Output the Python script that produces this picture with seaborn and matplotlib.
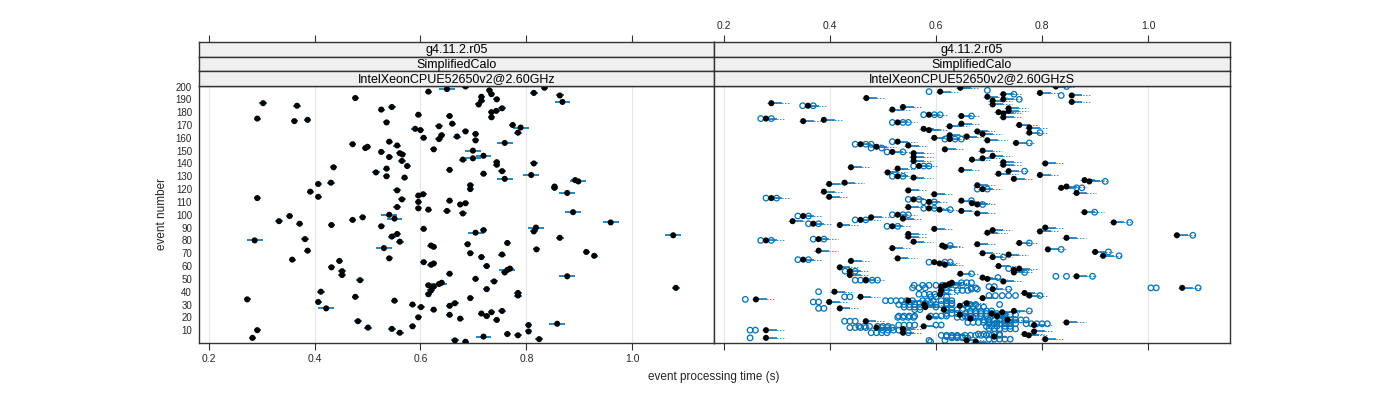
"""
Event processing time per event, two lattice-style panels
(single-threaded run vs. the 'S' run with its individual repeats).
"""
import numpy as np
import pandas as pd
import matplotlib
matplotlib.use("Agg")
import matplotlib.pyplot as plt
import seaborn as sns

# ---- data ------------------------------------------------------------------
strip_rows = ["g4.11.2.r05", "SimplifiedCalo"]
left_cpu = "IntelXeonCPUE52650v2@2.60GHz"
right_cpu = "IntelXeonCPUE52650v2@2.60GHzS"

x_ticks = [0.2, 0.4, 0.6, 0.8, 1.0]
y_ticks = list(range(10, 201, 10))

left_events = [
    200, 199, 198, 197, 196, 195, 194, 193, 192, 191,
    190, 189, 188, 187, 186, 185, 184, 183, 182, 181,
    180, 178, 177, 176, 175, 174, 173, 172, 171, 170,
    169, 168, 167, 166, 165, 164, 163, 162, 161, 160,
    159, 158, 157, 156, 155, 154, 153, 152, 151, 150,
    149, 148, 147, 146, 145, 144, 143, 142, 141, 140,
    139, 138, 137, 136, 135, 134, 133, 132, 131, 130,
    129, 128, 127, 126, 125, 124, 123, 122, 121, 120,
    119, 118, 117, 116, 115, 114, 113, 112, 111, 110,
    109, 108, 106, 105, 104, 103, 102, 101, 100, 99,
    98, 97, 96, 95, 94, 93, 92, 91, 90, 89,
    88, 87, 86, 85, 84, 83, 82, 81, 80, 79,
    78, 77, 76, 75, 74, 73, 72, 71, 70, 69,
    68, 67, 66, 65, 64, 63, 62, 61, 60, 59,
    58, 57, 56, 55, 54, 53, 52, 50, 49, 48,
    47, 46, 45, 44, 43, 42, 41, 40, 39, 38,
    37, 36, 35, 34, 33, 32, 31, 30, 29, 28,
    27, 26, 25, 24, 23, 22, 21, 20, 19, 18,
    17, 15, 14, 13, 12, 11, 10, 9, 8, 7,
    6, 5, 4, 3, 2, 1,
]
left_times = [
    0.685, 0.834, 0.650, 0.730, 0.615, 0.814, 0.734, 0.863, 0.715, 0.477,
    0.744, 0.715, 0.868, 0.303, 0.710, 0.367, 0.546, 0.754, 0.526, 0.743,
    0.734, 0.596, 0.655, 0.734, 0.292, 0.387, 0.362, 0.536, 0.660, 0.774,
    0.635, 0.789, 0.590, 0.600, 0.685, 0.784, 0.704, 0.640, 0.669, 0.606,
    0.635, 0.704, 0.541, 0.759, 0.472, 0.556, 0.500, 0.496, 0.625, 0.699,
    0.526, 0.561, 0.566, 0.719, 0.541, 0.699, 0.680, 0.565, 0.744, 0.814,
    0.744, 0.575, 0.436, 0.536, 0.655, 0.754, 0.516, 0.719, 0.809, 0.536,
    0.570, 0.759, 0.892, 0.898, 0.431, 0.407, 0.694, 0.853, 0.853, 0.694,
    0.556, 0.392, 0.877, 0.605, 0.596, 0.407, 0.292, 0.565, 0.655, 0.596,
    0.685, 0.675, 0.556, 0.596, 0.615, 0.650, 0.888, 0.680, 0.541, 0.353,
    0.491, 0.551, 0.472, 0.333, 0.959, 0.372, 0.432, 0.526, 0.818, 0.606,
    0.719, 0.814, 0.704, 0.556, 1.077, 0.546, 0.863, 0.382, 0.287, 0.561,
    0.764, 0.689, 0.620, 0.625, 0.531, 0.819, 0.387, 0.913, 0.694, 0.754,
    0.928, 0.715, 0.541, 0.358, 0.447, 0.606, 0.625, 0.620, 0.725, 0.432,
    0.769, 0.764, 0.452, 0.759, 0.655, 0.452, 0.877, 0.704, 0.486, 0.739,
    0.640, 0.635, 0.615, 0.625, 1.082, 0.725, 0.620, 0.412, 0.784, 0.615,
    0.784, 0.477, 0.694, 0.273, 0.551, 0.407, 0.665, 0.585, 0.655, 0.601,
    0.422, 0.625, 0.754, 0.734, 0.715, 0.655, 0.725, 0.596, 0.675, 0.744,
    0.482, 0.858, 0.804, 0.585, 0.501, 0.546, 0.292, 0.804, 0.561, 0.764,
    0.784, 0.719, 0.283, 0.824, 0.665, 0.685,
]
# events whose spread bar is visibly wider than the dot
left_wide_err = [198, 188, 168, 156, 150, 146, 144, 131, 128, 126, 117, 102,
                 100, 97, 94, 90, 86, 84, 80, 74, 57, 52, 46, 27, 15, 5]

right_events = [
    200, 199, 196, 195, 194, 193, 192, 191, 190, 189,
    188, 187, 186, 185, 184, 183, 182, 181, 180, 179,
    178, 177, 176, 175, 174, 173, 172, 171, 170, 169,
    168, 167, 166, 165, 164, 163, 162, 161, 160, 159,
    158, 157, 156, 155, 154, 153, 151, 150, 149, 148,
    146, 145, 144, 143, 142, 141, 140, 139, 138, 137,
    136, 135, 134, 133, 132, 131, 130, 129, 128, 127,
    126, 125, 124, 123, 122, 121, 120, 119, 118, 117,
    116, 114, 113, 112, 111, 110, 109, 108, 106, 105,
    104, 103, 102, 101, 100, 99, 98, 97, 96, 95,
    94, 93, 92, 91, 90, 89, 88, 87, 86, 85,
    84, 83, 82, 81, 80, 79, 78, 77, 76, 75,
    74, 73, 72, 71, 70, 69, 68, 67, 66, 65,
    64, 63, 62, 61, 60, 59, 58, 57, 56, 55,
    54, 53, 52, 51, 50, 49, 48, 47, 46, 45,
    44, 43, 42, 41, 40, 39, 38, 37, 36, 35,
    34, 33, 32, 31, 30, 29, 28, 27, 26, 25,
    24, 23, 22, 21, 20, 19, 18, 17, 16, 14,
    13, 12, 11, 10, 9, 8, 7, 6, 5, 4,
    3, 2, 1,
]
right_times = [
    0.826, 0.646, 0.608, 0.796, 0.727, 0.856, 0.697, 0.469, 0.727, 0.707,
    0.856, 0.290, 0.707, 0.359, 0.538, 0.737, 0.518, 0.737, 0.718, 0.727,
    0.587, 0.648, 0.727, 0.280, 0.389, 0.350, 0.528, 0.648, 0.757, 0.626,
    0.776, 0.577, 0.587, 0.678, 0.776, 0.688, 0.626, 0.658, 0.597, 0.626,
    0.697, 0.528, 0.751, 0.458, 0.548, 0.488, 0.617, 0.688, 0.518, 0.558,
    0.707, 0.558, 0.688, 0.668, 0.558, 0.727, 0.806, 0.727, 0.568, 0.440,
    0.528, 0.648, 0.737, 0.509, 0.718, 0.796, 0.528, 0.558, 0.747, 0.880,
    0.889, 0.428, 0.399, 0.678, 0.846, 0.836, 0.688, 0.548, 0.389, 0.865,
    0.597, 0.399, 0.290, 0.558, 0.648, 0.587, 0.668, 0.678, 0.548, 0.587,
    0.607, 0.648, 0.880, 0.678, 0.528, 0.350, 0.478, 0.538, 0.458, 0.330,
    0.935, 0.369, 0.419, 0.518, 0.806, 0.597, 0.707, 0.796, 0.697, 0.548,
    1.054, 0.548, 0.846, 0.379, 0.280, 0.558, 0.757, 0.678, 0.612, 0.617,
    0.518, 0.811, 0.379, 0.900, 0.688, 0.737, 0.915, 0.707, 0.528, 0.350,
    0.440, 0.597, 0.607, 0.617, 0.718, 0.419, 0.757, 0.747, 0.438, 0.747,
    0.646, 0.438, 0.865, 0.688, 0.697, 0.468, 0.727, 0.630, 0.625, 0.617,
    0.610, 1.064, 0.707, 0.610, 0.409, 0.767, 0.608, 0.776, 0.458, 0.688,
    0.261, 0.548, 0.399, 0.658, 0.578, 0.645, 0.580, 0.419, 0.615, 0.747,
    0.725, 0.705, 0.645, 0.715, 0.587, 0.665, 0.735, 0.468, 0.846, 0.785,
    0.577, 0.488, 0.538, 0.280, 0.785, 0.538, 0.767, 0.775, 0.710, 0.280,
    0.806, 0.658, 0.675,
]

# individual repeats (open circles) in the right panel, per event
right_repeats = {
    200: [0.846], 197: [0.697], 196: [0.587], 194: [0.747], 193: [0.836],
    190: [0.757], 185: [0.349, 0.369], 178: [0.577, 0.597, 0.608],
    177: [0.667], 175: [0.270, 0.290], 172: [0.518, 0.538, 0.548],
    164: [0.796], 159: [0.617, 0.636, 0.648], 157: [0.518], 156: [0.776],
    155: [0.448, 0.468, 0.478], 152: [0.478, 0.498], 149: [0.508, 0.538],
    138: [0.558, 0.577, 0.587], 134: [0.767], 130: [0.518, 0.538],
    126: [0.919], 121: [0.865, 0.875], 120: [0.678, 0.697],
    113: [0.280, 0.300], 112: [0.548, 0.568], 111: [0.667],
    110: [0.577, 0.597], 108: [0.688], 105: [0.577, 0.597], 104: [0.627],
    102: [0.899], 100: [0.518, 0.538, 0.548], 99: [0.340, 0.360],
    96: [0.448, 0.468], 94: [0.965], 93: [0.360, 0.379], 91: [0.508, 0.528],
    84: [1.084], 81: [0.369, 0.389], 80: [0.270, 0.290], 78: [0.776],
    76: [0.627], 73: [0.836], 71: [0.925], 68: [0.945], 67: [0.727],
    65: [0.340, 0.360], 63: [0.587, 0.617, 0.627], 58: [0.737],
    56: [0.429, 0.448], 55: [0.767], 54: [0.667], 52: [0.826, 0.846, 0.895],
    51: [0.717], 49: [0.448, 0.458, 0.468, 0.480, 0.490],
    47: [0.648, 0.658, 0.667],
    45: [0.559, 0.575, 0.587, 0.600, 0.612, 0.625, 0.637, 0.650],
    44: [0.700, 0.710],
    43: [0.556, 0.568, 0.580, 0.666, 0.675, 1.005, 1.015, 1.094],
    42: [0.667, 0.678, 0.737],
    41: [0.610, 0.620, 0.640, 0.650, 0.660], 40: [0.379],
    38: [0.568, 0.578, 0.588, 0.598],
    37: [0.700, 0.712, 0.725, 0.737, 0.750, 0.796],
    36: [0.428, 0.438, 0.590, 0.600, 0.620], 34: [0.241],
    33: [0.505, 0.515, 0.525, 0.535, 0.545, 0.556, 0.575, 0.585, 0.595,
         0.610, 0.620, 0.630],
    32: [0.369, 0.379],
    31: [0.570, 0.580, 0.590, 0.620, 0.630],
    30: [0.530, 0.540, 0.550, 0.560, 0.600, 0.610, 0.620, 0.630, 0.655,
         0.665, 0.675, 0.720],
    28: [0.540, 0.550, 0.560, 0.570, 0.600, 0.660, 0.670, 0.680, 0.690],
    27: [0.379, 0.389],
    26: [0.560, 0.570, 0.620, 0.630, 0.640, 0.650],
    25: [0.665, 0.675, 0.685, 0.695, 0.705, 0.776],
    23: [0.620, 0.630, 0.640, 0.655, 0.665, 0.675, 0.685, 0.695, 0.705,
         0.715, 0.725],
    22: [0.710, 0.720, 0.730, 0.740, 0.750],
    21: [0.530, 0.540, 0.550, 0.560, 0.590, 0.600, 0.610, 0.620, 0.655,
         0.665, 0.675, 0.685, 0.695, 0.705, 0.720, 0.730],
    20: [0.528, 0.538, 0.548, 0.558, 0.640, 0.650, 0.660, 0.670],
    18: [0.690, 0.700, 0.710, 0.720, 0.730, 0.740, 0.750, 0.760, 0.770],
    17: [0.428, 0.438, 0.448],
    16: [0.660, 0.670, 0.680, 0.690, 0.700, 0.715, 0.730, 0.740],
    15: [0.700, 0.710, 0.720, 0.730, 0.740, 0.750, 0.770, 0.780, 0.790,
         0.800, 0.810],
    14: [0.530, 0.540, 0.550, 0.560, 0.600, 0.610],
    13: [0.455, 0.465, 0.475, 0.490, 0.500, 0.510, 0.695, 0.705, 0.715,
         0.730, 0.740],
    12: [0.438, 0.448, 0.458, 0.468, 0.498, 0.508, 0.518],
    11: [0.700, 0.710, 0.720, 0.730, 0.740, 0.750],
    10: [0.250, 0.260, 0.500, 0.510, 0.520, 0.530],
    8: [0.478, 0.488, 0.498, 0.508, 0.548], 7: [0.680, 0.690, 0.700, 0.710, 0.720],
    6: [0.610, 0.620, 0.630, 0.640, 0.655, 0.665, 0.675, 0.685, 0.695,
        0.705, 0.720],
    5: [0.620, 0.630, 0.640, 0.650], 4: [0.250, 0.630, 0.640, 0.650, 0.660],
    3: [0.700, 0.710, 0.720, 0.730, 0.740], 2: [0.587, 0.617], 1: [0.590],
}

# spread bar extents (s)
left_err_small, left_err_wide = 0.007, 0.015
right_err_lo, right_err_hi, right_err_tail = 0.008, 0.020, 0.036

# ---- frames ----------------------------------------------------------------
left_df = pd.DataFrame({"event": left_events, "time": left_times})
left_df["err"] = np.where(left_df["event"].isin(left_wide_err), left_err_wide, left_err_small)
right_df = pd.DataFrame({"event": right_events, "time": right_times})
rep_df = pd.DataFrame(
    [(ev, t) for ev, ts in right_repeats.items() for t in ts], columns=["event", "time"]
)

# ---- style -----------------------------------------------------------------
sns.set_theme(style="white")
plt.rcParams["font.family"] = ["Liberation Sans", "DejaVu Sans"]

BLUE = "#0072b8"
FRAME = "#333333"
W, H = 1400, 400
XLIM = (0.182, 1.154)
YLIM = (0, 200.4)

fig = plt.figure(figsize=(14, 4), dpi=100)


def box(x0, x1, y0, y1):
    """Figure rect from pixel edges (y measured from the top)."""
    return [x0 / W, 1 - y1 / H, (x1 - x0) / W, (y1 - y0) / H]


panels = [(199, 714, left_cpu), (714, 1230, right_cpu)]
strip_edges = [42, 56.7, 71.3, 86]
axes = []

for i, (x0, x1, cpu) in enumerate(panels):
    ax = fig.add_axes(box(x0, x1, 86, 343))
    axes.append(ax)

    # strips on top of each panel
    labels = strip_rows + [cpu]
    for k, lab in enumerate(labels):
        sax = fig.add_axes(box(x0, x1, strip_edges[k], strip_edges[k + 1]))
        sax.set_facecolor("#f0f0f0")
        sax.set_xlim(*XLIM)
        sax.set_ylim(0, 1)
        sax.set_yticks([])
        for s in sax.spines.values():
            s.set_color(FRAME)
            s.set_linewidth(1.0)
        sax.text(0.5, 0.45, lab, transform=sax.transAxes, ha="center", va="center",
                 fontsize=9, color="black")
        if k == 0:
            sax.set_xticks(x_ticks)
            sax.tick_params(axis="x", top=True, bottom=False, labeltop=(i == 1),
                            labelbottom=False, direction="out", length=5,
                            width=0.8, color=FRAME, labelsize=7.5, pad=3)
        else:
            sax.set_xticks([])

ax_l, ax_r = axes

# left panel: mean per event with its spread
ax_l.hlines(left_df["event"], left_df["time"] - left_df["err"],
            left_df["time"] + left_df["err"], color=BLUE, lw=1.2, zorder=2)
sns.scatterplot(data=left_df, x="time", y="event", ax=ax_l, color="black",
                s=19, edgecolor="none", zorder=3, legend=False)

# right panel: repeats as open circles, spread line, then the mean
sns.scatterplot(data=rep_df, x="time", y="event", ax=ax_r, marker="o", s=16,
                facecolor="none", edgecolor=BLUE, linewidth=0.9, zorder=2, legend=False)
ax_r.hlines(right_df["event"], right_df["time"] - right_err_lo,
            right_df["time"] + right_err_tail, color=BLUE, lw=0.7,
            linestyles=(0, (1.5, 1.5)), alpha=0.8, zorder=2)
ax_r.hlines(right_df["event"], right_df["time"], right_df["time"] + right_err_hi,
            color=BLUE, lw=1.1, zorder=2)
sns.scatterplot(data=right_df, x="time", y="event", ax=ax_r, color="black",
                s=19, edgecolor="none", zorder=3, legend=False)

for i, ax in enumerate(axes):
    ax.set_xlim(*XLIM)
    ax.set_ylim(*YLIM)
    ax.set_xticks(x_ticks)
    ax.xaxis.grid(True, color="#e6e6e6", lw=0.8)
    ax.yaxis.grid(False)
    ax.set_axisbelow(True)
    ax.set_xlabel("")
    ax.set_ylabel("")
    for s in ax.spines.values():
        s.set_color(FRAME)
        s.set_linewidth(1.0)
    ax.tick_params(axis="x", bottom=True, top=False, labelbottom=(i == 0),
                   direction="out", length=5, width=0.8, color=FRAME,
                   labelsize=7.5, pad=3)

ax_l.set_yticks(y_ticks)
ax_l.tick_params(axis="y", left=True, direction="out", length=0,
                 labelsize=7, pad=5)
ax_r.set_yticks([])

fig.text(714 / W, 1 - 377 / H, "event processing time (s)", ha="center",
         va="center", fontsize=8.5)
fig.text(162 / W, 1 - 214 / H, "event number", ha="center", va="center",
         rotation=90, fontsize=8.5)

fig.savefig("out.png", dpi=100)
plt.close(fig)
